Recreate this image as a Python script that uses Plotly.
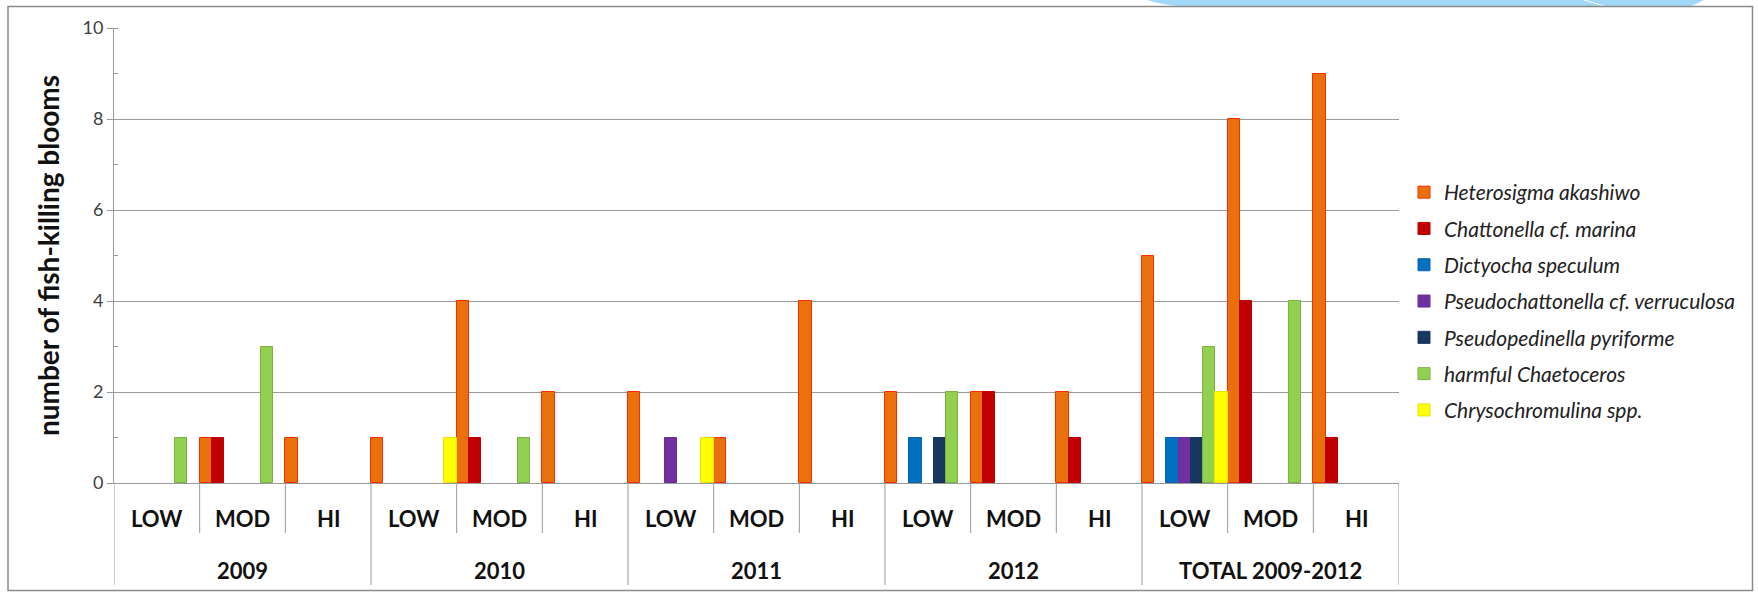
import plotly.graph_objects as go

# ---------------- data ----------------
years = ["2009", "2010", "2011", "2012", "TOTAL 2009-2012"]
levels = ["LOW", "MOD", "HI"]

series_names = [
    "Heterosigma akashiwo",
    "Chattonella cf. marina",
    "Dictyocha speculum",
    "Pseudochattonella cf. verruculosa",
    "Pseudopedinella pyriforme",
    "harmful Chaetoceros",
    "Chrysochromulina spp.",
]
# values per (year, level): 2009 LOW/MOD/HI, 2010 ..., 2011 ..., 2012 ..., TOTAL ...
heterosigma       = [0, 1, 1,  1, 4, 2,  2, 1, 4,  2, 2, 2,  5, 8, 9]
chattonella       = [0, 1, 0,  0, 1, 0,  0, 0, 0,  0, 2, 1,  0, 4, 1]
dictyocha         = [0, 0, 0,  0, 0, 0,  0, 0, 0,  1, 0, 0,  1, 0, 0]
pseudochattonella = [0, 0, 0,  0, 0, 0,  1, 0, 0,  0, 0, 0,  1, 0, 0]
pseudopedinella   = [0, 0, 0,  0, 0, 0,  0, 0, 0,  1, 0, 0,  1, 0, 0]
chaetoceros       = [1, 3, 0,  0, 1, 0,  0, 0, 0,  2, 0, 0,  3, 4, 0]
chrysochromulina  = [0, 0, 0,  1, 0, 0,  1, 0, 0,  0, 0, 0,  2, 0, 0]
y_tick_values = [0, 2, 4, 6, 8, 10]

series_values = [heterosigma, chattonella, dictyocha, pseudochattonella,
                 pseudopedinella, chaetoceros, chrysochromulina]

# ---------------- styles ----------------
fill_colors = ["#E8710E", "#C00000", "#0070C0", "#7030A0", "#17375E", "#92D050", "#FFFF00"]
line_colors = ["#FF2A00", "#C00000", "#0A64AA", "#6A2C98", "#1A3458", "#7DAF45", "#EEE000"]

W, H = 1758, 593
PL, PR, PT, PB = 114, 1399, 28, 483   # plot area in pixels


def px(xpix):
    return (xpix - PL) / (PR - PL)


def py(ypix):
    return (PB - ypix) / (PB - PT)


cats = [f"{y} {l}" for y in years for l in levels]

fig = go.Figure()
for name, vals, fc, lc in zip(series_names, series_values, fill_colors, line_colors):
    fig.add_trace(go.Bar(
        x=cats,
        y=[v if v else None for v in vals],
        name=name,
        legendgroup=name,
        marker=dict(color=fc, line=dict(color=lc, width=1)),
    ))

grid_col = "#9A9A9A"
font_family = "Lato, 'Open Sans', sans-serif"

shapes = []
# light blue decoration at the top right
shapes.append(dict(
    type="path", xref="paper", yref="paper", layer="above",
    path=(f"M{px(1147)},{py(0)} Q{px(1165)},{py(6)} {px(1195)},{py(7)} "
          f"L{px(1688)},{py(7)} Q{px(1697)},{py(4)} {px(1704)},{py(0)} Z"),
    fillcolor="#A2D8F7", line=dict(width=0),
))
shapes.append(dict(
    type="line", xref="paper", yref="paper", layer="above",
    x0=px(1584), y0=py(0), x1=px(1604), y1=py(6),
    line=dict(color="white", width=1),
))
# outer chart frame
shapes.append(dict(
    type="rect", xref="paper", yref="paper", layer="above",
    x0=px(8), y0=py(590.5), x1=px(1752.5), y1=py(6.5),
    line=dict(color="#8A8A8A", width=1.5), fillcolor="rgba(0,0,0,0)",
))
# category dividers below the axis
n = len(cats)
for i in range(n + 1):
    outer = (i % len(levels) == 0)
    shapes.append(dict(
        type="line", xref="x", yref="paper", layer="above",
        x0=i - 0.5, x1=i - 0.5, y0=0, y1=py(585 if outer else 533),
        line=dict(color=grid_col, width=1),
    ))

annotations = []
for i, c in enumerate(cats):
    annotations.append(dict(
        x=i, y=py(518), xref="x", yref="paper", text=levels[i % len(levels)],
        showarrow=False, xanchor="center", yanchor="middle",
        font=dict(family=font_family, size=22, color="#111111", weight="bold"),
    ))
for j, yr in enumerate(years):
    annotations.append(dict(
        x=j * len(levels) + 1, y=py(570), xref="x", yref="paper", text=yr,
        showarrow=False, xanchor="center", yanchor="middle",
        font=dict(family=font_family, size=22, color="#111111", weight="bold"),
    ))

fig.update_layout(
    width=W, height=H,
    margin=dict(l=PL, r=W - PR, t=PT, b=H - PB, autoexpand=False),
    paper_bgcolor="white", plot_bgcolor="white",
    barmode="group", bargap=0, bargroupgap=0,
    showlegend=True,
    legend=dict(
        x=px(1404), y=py(172), xanchor="left", yanchor="top",
        font=dict(family=font_family, size=21, color="#222222", style="italic"),
        tracegroupgap=6, traceorder="grouped",
        bgcolor="rgba(0,0,0,0)",
    ),
    shapes=shapes,
    annotations=annotations,
    font=dict(family=font_family),
)
fig.update_xaxes(
    type="category", range=[-0.5, n - 0.5],
    showticklabels=False, ticks="", showgrid=False,
    showline=True, linecolor=grid_col, linewidth=1,
)
fig.update_yaxes(
    range=[0, 10], tickvals=y_tick_values,
    showgrid=True, gridcolor=grid_col, gridwidth=1,
    showline=True, linecolor=grid_col, linewidth=1,
    ticks="outside", ticklen=6, tickcolor=grid_col,
    minor=dict(dtick=1, ticks="inside", ticklen=4, tickcolor=grid_col, showgrid=False),
    tickfont=dict(family=font_family, size=18, color="#404040"),
    title=dict(text="number of fish-killing blooms", standoff=14,
               font=dict(family=font_family, size=28, color="#111111", weight="bold")),
    zeroline=False, automargin=False,
)

fig.write_html("out.html")
